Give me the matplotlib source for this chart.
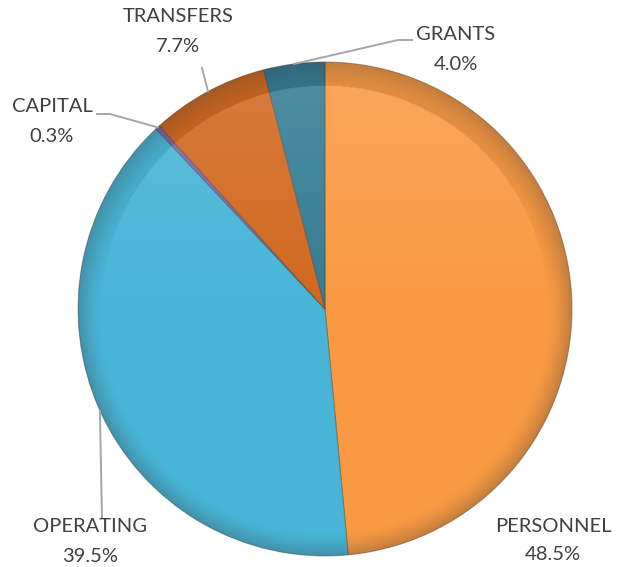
import numpy as np
import matplotlib
matplotlib.use("Agg")
import matplotlib.pyplot as plt
from matplotlib.patches import Circle

# budget shares by category, clockwise from 12 o'clock
categories = ["PERSONNEL", "OPERATING", "CAPITAL", "TRANSFERS", "GRANTS"]
shares = [48.5, 39.5, 0.3, 7.7, 4.0]
colors = ["#F99A42", "#48B5D7", "#7E65A3", "#D2681F", "#337C93"]

W, H = 619, 567
cx, cy, R = 325, H - 309, 247

fig = plt.figure(figsize=(W / 100, H / 100), dpi=100)
ax = fig.add_axes([0, 0, 1, 1])

wedges, _ = ax.pie(shares, colors=colors, startangle=90, counterclock=False,
                   center=(cx, cy), radius=R,
                   wedgeprops=dict(edgecolor=(0.25, 0.2, 0.15, 0.35), linewidth=0.8))

# soft bevel: light at the top, darker towards the rim
yy, xx = np.mgrid[-1:1:600j, -1:1:600j]
rr = np.hypot(xx, yy)
shade = np.zeros((600, 600, 4))
edge = np.clip((rr - 0.9) / 0.1, 0, 1) ** 1.6
top = np.clip(-yy, 0, 1)
shade[..., :3] = np.where(edge[..., None] > 0.01, 0.2, 1.0)
shade[..., 3] = np.clip(0.28 * edge + 0.14 * top * (1 - edge), 0, 1)
img = ax.imshow(shade, extent=(cx - R, cx + R, cy - R, cy + R), origin="upper",
                zorder=3, interpolation="bilinear")
img.set_clip_path(Circle((cx, cy), R, transform=ax.transData))

ax.set_xlim(0, W)
ax.set_ylim(0, H)
ax.set_aspect("auto")
ax.axis("off")

# label positions (name line centre) in pixel coords, y measured from the top
label_pos = {
    "PERSONNEL": (553, 526),
    "OPERATING": (90, 527),
    "CAPITAL": (52, 107),
    "TRANSFERS": (178, 17),
    "GRANTS": (456, 35),
}
# leader lines: from label side to wedge midpoint on the rim
leader_start = {
    "OPERATING": [(102, 518)],
    "CAPITAL": [(97, 114), (110, 114)],
    "TRANSFERS": [(202, 68)],
    "GRANTS": [(412, 40), (398, 40)],
}

cum = np.cumsum([0] + shares[:-1])
for name, share, start in zip(categories, shares, cum):
    lx, ly = label_pos[name]
    ax.text(lx, H - ly, name, ha="center", va="center", fontsize=14.5,
            family="Lato", color="#404040", zorder=5)
    ax.text(lx, H - ly - 29, f"{share:.1f}%", ha="center", va="center",
            fontsize=14.5, family="Lato", color="#404040", zorder=5)
    if name in leader_start:
        mid = np.deg2rad(90 - (start + share / 2) / 100 * 360)
        px, py = cx + R * np.cos(mid), cy + R * np.sin(mid)
        pts = [(x, H - y) for x, y in leader_start[name]] + [(px, py)]
        xs, ys = zip(*pts)
        ax.plot(xs, ys, color="#A6A6A6", lw=1.4, zorder=4)

fig.savefig("out.png", dpi=100)
